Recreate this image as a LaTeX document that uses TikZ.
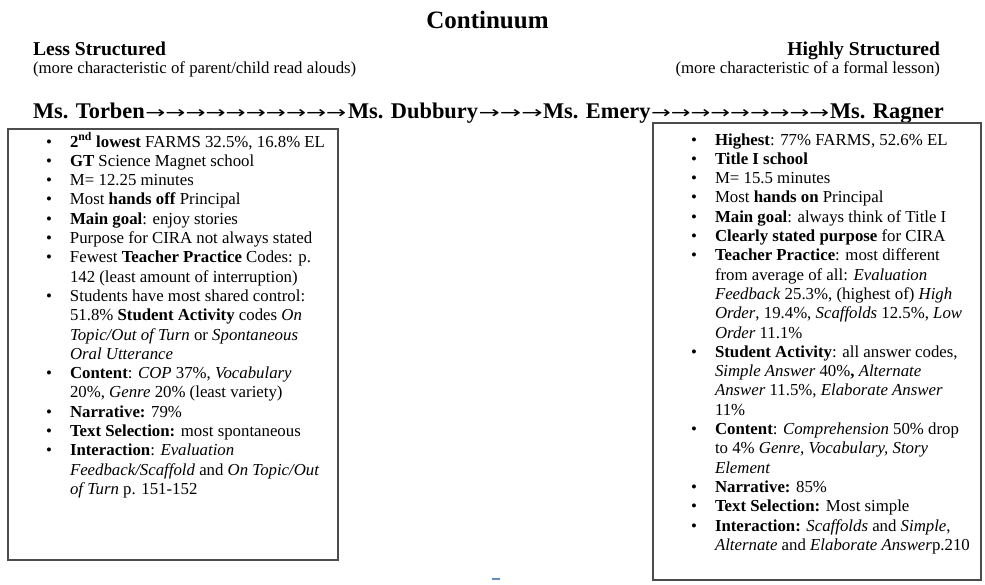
\documentclass[tikz,border=0pt]{standalone}
\usepackage{fontspec}
\usepackage{graphicx}
\setmainfont{Liberation Serif}
\newfontfamily\arrowfont{DejaVu Sans}
\definecolor{dashblue}{RGB}{100,140,190}
\newcommand{\bul}{\llap{•\hspace{18pt}}}
\newcommand{\arrowrun}[2]{\resizebox{#1pt}{\height}{\arrowfont #2}}
\begin{document}
\begin{tikzpicture}[x=1pt,y=-1pt,
  every node/.style={inner sep=0pt, outer sep=0pt},
  panel/.style={draw=black!70, line width=1.6pt},
  body/.style={font=\fontsize{16.8}{19.3}\selectfont, anchor=base west},
  head/.style={font=\bfseries\fontsize{19.6}{22}\selectfont},
  sub/.style={font=\fontsize{16.8}{19.3}\selectfont},
  teacher/.style={font=\bfseries\fontsize{22.4}{24}\selectfont, anchor=base west},
  arrowtext/.style={font=\fontsize{17}{20}\selectfont, anchor=base west}]
\useasboundingbox (0,0) rectangle (985,584);
\node[font=\bfseries\fontsize{25}{28}\selectfont, anchor=base] (title) at (487.5,28) {Continuum};
\node[head, anchor=base west] (less) at (33,55) {Less Structured};
\node[sub, anchor=base west] (lesssub) at (33,73) {(more characteristic of parent/child read alouds)};
\node[head, anchor=base east] (high) at (940,55) {Highly Structured};
\node[sub, anchor=base east] (highsub) at (940,73) {(more characteristic of a formal lesson)};
% teacher continuum
\node[teacher] (torben) at (33,118) {Ms. Torben};
\node[teacher] (dubbury) at (348,118) {Ms. Dubbury};
\node[teacher] (emery) at (543,118) {Ms. Emery};
\node[teacher] (ragner) at (830,118) {Ms. Ragner};
\node[arrowtext] (a1) at ([xshift=0.5pt]torben.base east) {\arrowrun{201}{→→→→→→→→→→}};
\node[arrowtext] (a2) at ([xshift=0.5pt]dubbury.base east) {\arrowrun{64}{→→→}};
\node[arrowtext] (a3) at ([xshift=0.5pt]emery.base east) {\arrowrun{178}{→→→→→→→→→}};
% boxes
\draw[panel] (8,129) rectangle (338,560);
\draw[panel] (653,123) rectangle (981,580);
\node[body] (leftlist) at (70,147) {\begin{tabular}[t]{@{}l@{}}
\bul\textbf{2\textsuperscript{nd} lowest} FARMS 32.5\%, 16.8\% EL\\
\bul\textbf{GT} Science Magnet school\\
\bul M= 12.25 minutes\\
\bul Most \textbf{hands off} Principal\\
\bul\textbf{Main goal}: enjoy stories\\
\bul Purpose for CIRA not always stated\\
\bul Fewest \textbf{Teacher Practice} Codes: p.\\
142 (least amount of interruption)\\
\bul Students have most shared control:\\
51.8\% \textbf{Student Activity} codes \textit{On}\\
\textit{Topic/Out of Turn} or \textit{Spontaneous}\\
\textit{Oral Utterance}\\
\bul\textbf{Content}: \textit{COP} 37\%, \textit{Vocabulary}\\
20\%, \textit{Genre} 20\% (least variety)\\
\bul\textbf{Narrative:} 79\%\\
\bul\textbf{Text Selection:} most spontaneous\\
\bul\textbf{Interaction}: \textit{Evaluation}\\
\textit{Feedback/Scaffold} and \textit{On Topic/Out}\\
\textit{of Turn} p. 151-152
\end{tabular}};
\node[body] (rightlist) at (715,145) {\begin{tabular}[t]{@{}l@{}}
\bul\textbf{Highest}: 77\% FARMS, 52.6\% EL\\
\bul\textbf{Title I school}\\
\bul M= 15.5 minutes\\
\bul Most \textbf{hands on} Principal\\
\bul\textbf{Main goal}: always think of Title I\\
\bul\textbf{Clearly stated purpose} for CIRA\\
\bul\textbf{Teacher Practice}: most different\\
from average of all: \textit{Evaluation}\\
\textit{Feedback} 25.3\%, (highest of) \textit{High}\\
\textit{Order}, 19.4\%, \textit{Scaffolds} 12.5\%, \textit{Low}\\
\textit{Order} 11.1\%\\
\bul\textbf{Student Activity}: all answer codes,\\
\textit{Simple Answer} 40\%\textbf{,} \textit{Alternate}\\
\textit{Answer} 11.5\%, \textit{Elaborate Answer}\\
11\%\\
\bul\textbf{Content}: \textit{Comprehension} 50\% drop\\
to 4\% \textit{Genre, Vocabulary, Story}\\
\textit{Element}\\
\bul\textbf{Narrative:} 85\%\\
\bul\textbf{Text Selection:} Most simple\\
\bul\textbf{Interaction:} \textit{Scaffolds} and \textit{Simple},\\
\textit{Alternate} and \textit{Elaborate Answer}p.210
\end{tabular}};
\fill[dashblue] (492,577.5) rectangle (500,580);
\end{tikzpicture}
\end{document}
